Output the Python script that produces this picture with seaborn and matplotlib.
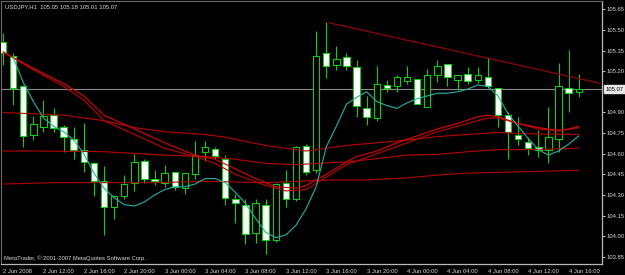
import matplotlib
matplotlib.use("Agg")
import matplotlib.pyplot as plt
import matplotlib.transforms as mtransforms
import numpy as np
import pandas as pd
import seaborn as sns

# ---------------- data ----------------
bar_open = [105.415, 105.31, 105.09, 104.735, 104.795, 104.88, 104.795, 104.71, 104.625, 104.53,
            104.40, 104.215, 104.295, 104.39, 104.55, 104.42, 104.385, 104.465, 104.35, 104.455,
            104.61, 104.635, 104.56, 104.27, 104.23, 104.025, 104.23, 103.975, 104.39, 104.27,
            104.66, 104.48, 105.33, 105.245, 105.30, 105.23, 104.93, 104.86, 105.10, 105.09,
            105.13, 105.14, 104.94, 105.175, 105.25, 105.135, 105.18, 105.135, 105.16, 105.075,
            104.885, 104.735, 104.685, 104.65, 104.63, 104.71, 105.075, 105.05]
bar_high = [105.475, 105.33, 105.10, 104.875, 104.99, 104.93, 104.81, 104.795, 104.82, 104.54,
            104.51, 104.30, 104.445, 104.60, 104.56, 104.48, 104.52, 104.47, 104.46, 104.69,
            104.69, 104.65, 104.59, 104.31, 104.27, 104.27, 104.27, 104.39, 104.48, 104.66,
            104.67, 105.49, 105.555, 105.38, 105.335, 105.28, 105.02, 105.235, 105.135, 105.175,
            105.24, 105.14, 105.215, 105.28, 105.25, 105.175, 105.23, 105.23, 105.295, 105.075,
            104.905, 104.87, 104.725, 104.77, 104.94, 105.26, 105.355, 105.18]
bar_low = [105.245, 104.955, 104.65, 104.70, 104.76, 104.76, 104.61, 104.56, 104.47, 104.295,
           104.01, 104.125, 104.27, 104.33, 104.385, 104.37, 104.36, 104.335, 104.31, 104.42,
           104.545, 104.56, 104.23, 104.10, 103.945, 103.955, 103.87, 103.96, 104.21, 104.26,
           104.445, 104.46, 105.15, 105.21, 105.21, 104.87, 104.81, 104.835, 105.05, 105.05,
           105.11, 104.96, 104.94, 105.125, 105.09, 105.06, 105.11, 105.115, 105.08, 104.795,
           104.56, 104.665, 104.59, 104.58, 104.53, 104.615, 104.90, 105.01]
bar_close = [105.335, 105.075, 104.73, 104.815, 104.875, 104.79, 104.72, 104.625, 104.54, 104.40,
             104.21, 104.29, 104.38, 104.54, 104.42, 104.405, 104.46, 104.36, 104.46, 104.59,
             104.65, 104.585, 104.275, 104.24, 104.015, 104.24, 103.975, 104.38, 104.27, 104.65,
             104.465, 105.31, 105.24, 105.29, 105.24, 104.945, 104.87, 105.11, 105.075, 105.155,
             105.155, 104.96, 105.175, 105.24, 105.155, 105.175, 105.13, 105.175, 105.095, 104.88,
             104.755, 104.705, 104.645, 104.625, 104.72, 105.09, 105.04, 105.07]

x_tick_labels = ["2 Jun 2008", "2 Jun 12:00", "2 Jun 16:00", "2 Jun 20:00", "3 Jun 00:00",
                 "3 Jun 04:00", "3 Jun 08:00", "3 Jun 12:00", "3 Jun 16:00", "3 Jun 20:00",
                 "4 Jun 00:00", "4 Jun 04:00", "4 Jun 08:00", "4 Jun 12:00", "4 Jun 16:00"]
x_tick_bars = [0, 4, 8, 12, 16, 20, 24, 28, 32, 36, 40, 44, 48, 52, 56]
y_tick_values = [105.65, 105.50, 105.35, 105.20, 104.90, 104.75, 104.60, 104.45,
                 104.30, 104.15, 104.00, 103.85]

# short moving average (teal)
ma_fast_bar = list(range(1, 58))
ma_fast_val = [105.30, 105.12, 104.98, 104.86, 104.80, 104.76, 104.70, 104.60, 104.46, 104.35,
               104.28, 104.23, 104.22, 104.25, 104.30, 104.34, 104.36, 104.36, 104.38, 104.42,
               104.42, 104.39, 104.32, 104.24, 104.13, 104.03, 103.99, 104.01, 104.08, 104.20,
               104.36, 104.65, 104.80, 104.96, 105.01, 105.05, 104.98, 104.95, 104.93, 104.97,
               105.00, 105.02, 105.04, 105.04, 105.05, 105.07, 105.10, 105.09, 105.02, 104.89,
               104.80, 104.71, 104.63, 104.59, 104.62, 104.67, 104.73]

# red moving averages
ma_a1_bar = [0, 3, 6, 8, 10, 13, 16, 19, 21, 23, 25, 27, 29, 30, 32, 34, 35, 37, 39, 41, 43, 45,
             47, 48, 49, 51, 53, 55, 56, 57]
ma_a1_val = [105.34, 105.22, 105.11, 105.02, 104.88, 104.78, 104.68, 104.59, 104.56, 104.49,
             104.42, 104.36, 104.35, 104.37, 104.45, 104.54, 104.58, 104.62, 104.68, 104.73,
             104.78, 104.82, 104.87, 104.88, 104.87, 104.82, 104.79, 104.77, 104.78, 104.80]
ma_a2_bar = [0, 3, 6, 8, 10, 13, 16, 19, 21, 23, 26, 28, 30, 32, 34, 37, 40, 43, 46, 48, 49, 51,
             53, 55, 57]
ma_a2_val = [105.34, 105.21, 105.09, 104.99, 104.84, 104.74, 104.64, 104.58, 104.53, 104.45,
             104.37, 104.33, 104.34, 104.43, 104.52, 104.60, 104.68, 104.76, 104.82, 104.86,
             104.86, 104.82, 104.78, 104.765, 104.79]
ma_b_bar = [0, 6, 10, 13, 16, 20, 22, 24, 26, 28, 30, 32, 34, 37, 40, 43, 46, 49, 52, 57]
ma_b_val = [104.90, 104.88, 104.84, 104.79, 104.76, 104.74, 104.72, 104.69, 104.66, 104.64,
            104.62, 104.64, 104.66, 104.68, 104.70, 104.725, 104.74, 104.755, 104.745, 104.74]
ma_c_bar = [0, 3, 10, 16, 20, 23, 26, 29, 31, 34, 37, 40, 43, 46, 49, 52, 57]
ma_c_val = [104.62, 104.62, 104.615, 104.59, 104.58, 104.56, 104.53, 104.52, 104.53, 104.54,
            104.565, 104.59, 104.595, 104.615, 104.63, 104.63, 104.64]
ma_d_bar = [0, 5, 15, 20, 26, 29, 33, 36, 40, 43, 46, 49, 52, 57]
ma_d_val = [104.38, 104.39, 104.39, 104.40, 104.39, 104.40, 104.41, 104.41, 104.425, 104.445,
            104.46, 104.465, 104.47, 104.48]

# trend line (time index, price)
trend_bar = [32.2, 59.1]
trend_val = [105.553, 105.112]

title_text = "USDJPY,H1  105.05 105.18 105.01 105.07"
footer_text = "MetaTrader, \u00a9 2001-2007 MetaQuotes Software Corp."
last_price = 105.07

# ---------------- style ----------------
sns.set_style("dark", rc={"axes.facecolor": "black", "figure.facecolor": "black"})
plt.rcParams["font.family"] = ["Liberation Sans", "DejaVu Sans"]

GREEN = "#00d800"
TEXT = "#d8d8d8"
AXIS = "#b8b8b8"
FS = 4.2

fig = plt.figure(figsize=(6.25, 2.75), dpi=100)
fig.patch.set_facecolor("black")
ax = fig.add_axes([1 / 625, 1 - 264 / 275, 601 / 625, 263 / 275])
ax.set_facecolor("black")

idx = np.arange(len(bar_open))
o = np.array(bar_open); h = np.array(bar_high); l = np.array(bar_low); c = np.array(bar_close)

# last price line
ax.axhline(last_price, color="#8a8a8a", lw=0.8, zorder=1)

# wicks
ax.vlines(idx, l, h, color=GREEN, lw=0.75, zorder=2)
# bodies
bottoms = np.minimum(o, c)
heights = np.maximum(np.abs(c - o), 0.008)
fills = np.where(c < o, "white", "black")
ax.bar(idx, heights, bottom=bottoms, width=0.64, color=fills, edgecolor=GREEN,
       linewidth=0.75, zorder=3)

# moving averages via seaborn
def ma_line(bars, vals, color, lw=0.8):
    df = pd.DataFrame({"bar": bars, "price": vals})
    sns.lineplot(data=df, x="bar", y="price", ax=ax, color=color, lw=lw,
                 estimator=None, sort=False, zorder=4)

ma_line(ma_d_bar, ma_d_val, "#b00000")
ma_line(ma_c_bar, ma_c_val, "#b80000")
ma_line(ma_b_bar, ma_b_val, "#b80000")
ma_line(ma_a2_bar, ma_a2_val, "#c00000")
ma_line(ma_a1_bar, ma_a1_val, "#e00000")
ma_line(ma_fast_bar, ma_fast_val, "#20b2aa")
ma_line(trend_bar, trend_val, "#a00000")

# axes limits and ticks
ax.set_xlim(-0.2, 59.3)
ax.set_ylim(103.799, 105.71)
ax.set_xlabel("")
ax.set_ylabel("")
ax.grid(False)

ax.yaxis.tick_right()
ax.set_yticks(y_tick_values)
ax.set_yticklabels([f"{v:.2f}" for v in y_tick_values])
ax.set_xticks(x_tick_bars)
ax.set_xticklabels(x_tick_labels, ha="left")
ax.tick_params(axis="both", colors=AXIS, labelcolor=TEXT, labelsize=FS,
               length=2.2, width=0.8, direction="out")
ax.tick_params(axis="x", pad=1.2)
ax.tick_params(axis="y", pad=0.8)
for lbl in ax.get_xticklabels():
    lbl.set_horizontalalignment("left")

for side in ["left", "top"]:
    ax.spines[side].set_visible(True)
    ax.spines[side].set_color("#6a6a6a")
    ax.spines[side].set_linewidth(0.8)
for side in ["right", "bottom"]:
    ax.spines[side].set_visible(True)
    ax.spines[side].set_color(AXIS)
    ax.spines[side].set_linewidth(0.9)

# last price tag on the axis
trans = mtransforms.blended_transform_factory(ax.transAxes, ax.transData)
ax.text(1.006, last_price, f"{last_price:.2f}", transform=trans, ha="left", va="center",
        fontsize=FS, color="black", clip_on=False, zorder=6,
        bbox=dict(boxstyle="square,pad=0.2", facecolor="#e8e8e8", edgecolor="#e8e8e8"))

# titles
ax.text(0.006, 0.978, title_text, transform=ax.transAxes, ha="left", va="center",
        fontsize=FS, color=TEXT, zorder=6)
ax.text(0.005, 0.022, footer_text, transform=ax.transAxes, ha="left", va="center",
        fontsize=FS, color=TEXT, zorder=6)

fig.savefig("out.png", dpi=100, facecolor="black")
